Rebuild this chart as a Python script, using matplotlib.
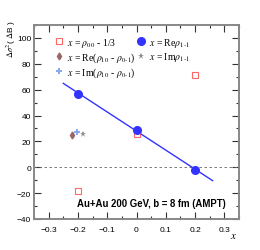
import numpy as np
import matplotlib
matplotlib.use("Agg")
import matplotlib.pyplot as plt
from matplotlib.ticker import MultipleLocator

plt.rcParams['mathtext.fontset'] = 'stix'
plt.rcParams['font.family'] = ['Liberation Sans', 'DejaVu Sans']

# data
x_rho00 = [-0.2, 0.0, 0.2]
y_rho00 = [-18, 26, 71]
x_rerho = [-0.2, 0.0, 0.2]
y_rerho = [57, 29, -2]
x_re10 = [-0.219]
y_re10 = [24.8]
x_im10 = [-0.202]
y_im10 = [27.5]
x_im11 = [-0.184]
y_im11 = [25.6]
labels = [r'$x$ = $\rho_{00}$ - 1/3',
          r'$x$ = Re($\rho_{10}$ - $\rho_{0\text{-}1}$)',
          r'$x$ = Im($\rho_{10}$ - $\rho_{0\text{-}1}$)',
          r'$x$ = Re$\rho_{1\text{-}1}$',
          r'$x$ = Im$\rho_{1\text{-}1}$']
annotation = 'Au+Au 200 GeV, b = 8 fm (AMPT)'

fig = plt.figure(figsize=(2.6, 2.51), dpi=100)
ax = fig.add_axes([34/260, 1-220/251, (239-34)/260, (220-26)/251])

c_red = '#ff6666'
c_blue = '#3333ff'
c_brown = '#996666'
c_lblue = '#88aaee'
c_gray = '#888888'

ax.axhline(0, color='#666666', lw=0.6, ls=(0, (3, 3)))

coef = np.polyfit(x_rerho, y_rerho, 1)
xl = np.array([-0.25, 0.26])
ax.plot(xl, np.polyval(coef, xl), color=c_blue, lw=1.0)

h1, = ax.plot(x_rho00, y_rho00, 's', mfc='none', mec=c_red, ms=5, mew=0.8)
h4, = ax.plot(x_rerho, y_rerho, 'o', color=c_blue, ms=5.5)
h2, = ax.plot(x_re10, y_re10, 'd', color=c_brown, ms=3.5)
h3, = ax.plot(x_im10, y_im10, 'P', color=c_lblue, ms=5, mew=0)
h5, = ax.plot(x_im11, y_im11, '*', color=c_gray, ms=4.5, mew=0)

ax.set_xlim(-0.35, 0.35)
ax.set_ylim(-40, 110)
ax.xaxis.set_minor_locator(MultipleLocator(0.05))
ax.yaxis.set_minor_locator(MultipleLocator(10))
ax.tick_params(which='both', direction='in', top=True, right=True,
               labelsize=6, colors='#333333', labelcolor='black')
ax.tick_params(which='major', length=5, width=0.8)
ax.tick_params(which='minor', length=2.5, width=0.8)
ax.tick_params(axis='x', pad=5)
ax.tick_params(axis='y', pad=2)
ax.set_yticks([-40, -20, 0, 20, 40, 60, 80, 100])
ax.set_yticklabels(['\u221240', '\u221220', '0', '20', '40', '60', '80', '100'])
ax.set_xticks([-0.3, -0.2, -0.1, 0, 0.1, 0.2, 0.3])
ax.set_xticklabels(['\u22120.3', '\u22120.2', '\u22120.1', '0', '0.1', '0.2', '0.3'])
for s in ax.spines.values():
    s.set_color('#888888')
    s.set_linewidth(1.4)

fig.text(11/260, 1-21/251, r'$\Delta\sigma^{2}$( $\Delta$B )', fontsize=6,
         rotation=90, ha='center', va='top')
fig.text(234/260, 1-236/251, r'$x$', fontsize=8, ha='center', va='center')

ax.text(0.21, 0.085, annotation, transform=ax.transAxes, fontsize=6.9,
        family='Liberation Sans', fontweight='bold', ha='left', va='center')

leg = ax.legend([h1, h2, h3, h4, h5], labels, ncol=2, loc='upper left',
                bbox_to_anchor=(0.08, 0.965), frameon=False,
                prop={'family': 'Liberation Serif', 'size': 7},
                handlelength=1.0, handletextpad=0.3, columnspacing=0.1,
                labelspacing=0.15, borderaxespad=0)

fig.savefig('out.png', dpi=100)
